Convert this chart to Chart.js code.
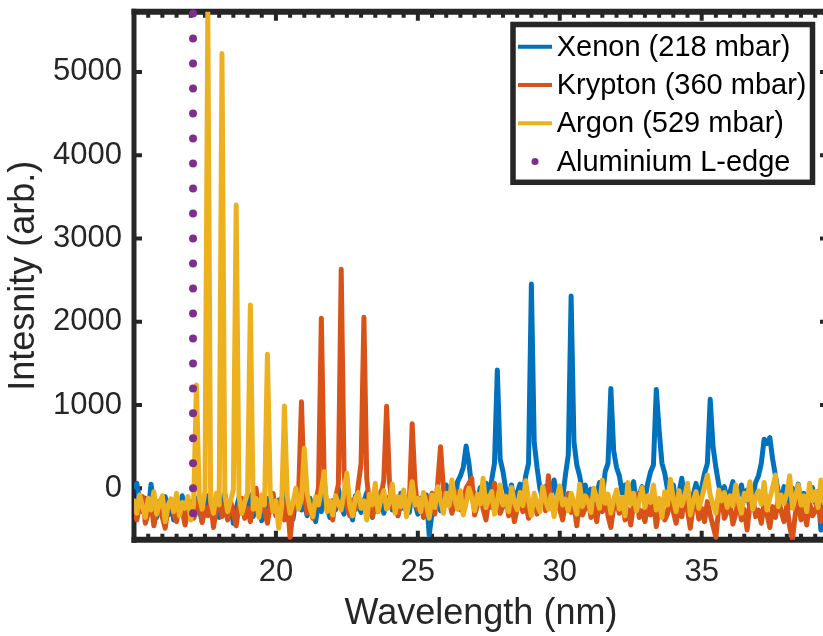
<!DOCTYPE html>
<html><head><meta charset="utf-8">
<script src="https://cdn.jsdelivr.net/npm/chart.js@4/dist/chart.umd.min.js"></script>
<style>html,body{margin:0;padding:0;background:#fff;overflow:hidden;width:823px;height:636px}canvas{display:block}</style>
</head><body>
<canvas id="c" width="840" height="636"></canvas>
<script>
// wavelength sampling (nm)
const wlStart = 15.0, wlStep = 0.1, wlCount = 245;

const seriesLabels = ['Xenon (218 mbar)', 'Krypton (360 mbar)', 'Argon (529 mbar)', 'Aluminium L-edge'];

const xenon = [
  20, 60, -150, -280, -120, -300, 50, -200, -350, -180,
  -250, -100, -320, -200, -380, -150, -260, -90, -300, -220,
  -170, -330, -120, -260, -400, -180, -90, -310, -230, -140,
  -350, -200, -60, -280, -170, -420, -240, -110, -300, -190,
  -260, -80, -340, -210, -150, -390, -230, -120, -280, -180,
  -320, -140, -250, -60, -300, -200, -370, -150, -90, -260,
  -180, -330, -120, -240, -400, -170, -280, -100, -220, -350,
  -150, -260, 0, -210, -310, -130, -240, -380, -90, -200,
  -290, -160, -50, -250, -350, -120, -220, -40, -300, -180,
  -100, -260, -200, -330, -60, -240, -150, -290, -20, -190,
  -310, -120, -240, -80, -560, -300, -200, -100, -270, -150,
  40, -130, -40, -200, 80, 150, 250, 508, 300, 0,
  -80, -150, 10, -100, 60, -50, 100, 300, 1420, 350,
  200, -20, -120, 40, -180, -50, 50, -100, 150, 300,
  2452, 550, 250, 0, -130, 20, -160, -40, 100, -90,
  10, -120, 160, 400, 2310, 560, 280, 150, -50, 40,
  -140, -10, -200, -80, 70, -100, 200, 300, 1200, 450,
  250, 150, -60, 40, -150, -40, 80, -200, -80, 20,
  -130, 60, 200, 280, 1188, 700, 300, 180, -20, -100,
  40, -180, -50, 120, -120, 0, -230, -80, 60, -110,
  10, 180, 300, 1068, 500, 250, 50, -100, 20, -160,
  -40, 80, -210, -70, 40, -150, -20, -250, -100, 70,
  150, 300, 590, 540, 610, 350, 150, -50, -150, 20,
  -100, -230, 0, -130, 50, -180, -60, -300, -110, 10,
  -170, -40, -500, -100, 40
];

const krypton = [
  -250, -380, -200, -100, -420, -300, -180, -450, -260, -150,
  -350, -480, -220, -130, -310, -400, -190, -270, -440, -240,
  -160, -360, -280, -120, -410, -230, -330, -170, -470, -260,
  -90, -340, -210, -380, -150, -290, -450, -200, -120, -360,
  -240, -400, -180, 0, -310, -150, -270, -420, -200, -60,
  -330, -240, -110, -380, -160, -590, -280, -200, -60, 1040,
  -100, -300, -200, -360, -150, 0, 2043, 100, -260, -180,
  -380, -120, 50, 2630, 200, -220, -330, -140, -260, 40,
  300, 2053, 120, -200, -340, -150, -280, -90, 100, 985,
  80, -230, -130, -320, -200, -60, -280, -170, 776, 50,
  -250, -150, -350, -100, -230, -60, -310, 60, 500, 0,
  -200, -120, -300, -180, -40, -260, -150, 0, 60, 120,
  -320, -200, -80, -250, -380, -140, -230, 60, -170, -300,
  -210, -90, -330, -150, -400, -250, -110, -280, -180, -360,
  -230, -120, -310, -190, -60, -270, 150, -200, -300, -140,
  -250, -380, -170, -60, -290, -200, -450, -150, -320, -240,
  -110, -350, -220, -400, -160, -280, -80, -330, -470, -230,
  -170, -300, -120, -380, -250, -440, -190, -60, -350, -270,
  -400, -200, -320, -140, -460, -250, -180, -380, -300, -110,
  -280, -420, -190, -340, -90, -260, -480, -210, -150, -370,
  -240, -400, -160, -320, -450, -590, -230, -120, -360, -280,
  -190, -430, -300, -150, -380, -250, -500, -200, -100, -340,
  -260, -420, -180, -310, -470, -220, -350, -120, -280, -400,
  -200, -460, -610, -300, -160, -380, -250, -440, -170, -330,
  -280, -120, -400, -230, -350
];

const argon = [
  -150, -300, -80, -220, -350, -120, -260, -40, -310, -180,
  -90, -400, -200, -130, -280, -60, -330, -170, -240, -100,
  -380, -200, 1240, -100, -250, -40, 5723, -150, -300, -60,
  -200, 5222, -80, -280, -150, -20, 3401, -100, -300, -170,
  -60, 2200, -250, -120, -350, -80, -200, 1610, -50, -280,
  -150, -480, -220, 988, -100, -300, -180, 0, -250, -130,
  480, -60, -230, -340, -100, -200, -20, 200, -280, -150,
  -320, -90, -180, -260, -40, 180, -210, -330, -120, -50,
  -240, -150, -380, -70, -200, 60, -280, -130, -30, -250,
  -170, 50, -300, -100, -220, -20, -340, -160, 80, -200,
  -120, -280, -50, -190, -360, -80, -230, 20, -150, -300,
  -60, -210, 100, -140, -250, -30, -320, -180, 0, -110,
  -270, -70, -190, 120, -230, -130, -40, -310, -160, 40,
  -200, -100, -280, 10, -170, -260, -50, -210, 90, -140,
  -330, -60, -190, -280, 20, -150, -250, -80, -340, -110,
  30, -200, -130, -270, -60, -180, -310, 50, -220, -90,
  -160, -290, 0, -120, -240, 100, -180, -70, -300, -140,
  -20, -250, -110, -330, 70, -190, -60, -270, -150, 10,
  -230, -90, -170, 40, -260, -120, -350, -40, -200, 110,
  -140, -280, -30, -210, -100, 60, -320, -160, -40, -240,
  -120, 20, 160, -80, -190, -300, -20, -150, -50, -230,
  -90, -210, 40, -170, -300, -60, -140, 80, -250, -110,
  -30, -190, 70, -260, -120, 10, 160, -220, -80, -180,
  -60, 150, -240, -110, 40, -200, -90, -280, 60, -150,
  -40, -230, 100, -170, -60
];

const alEdgeWavelength = 17.08;
const alEdgeY = [-300, 0, 300, 600, 900, 1200, 1500, 1800, 2100, 2400, 2700,
                 3000, 3300, 3600, 3900, 4200, 4500, 4800, 5100, 5400, 5700];

const xTickValues = [20, 25, 30, 35];
const yTickValues = [0, 1000, 2000, 3000, 4000, 5000];
const xMinorStep = 0.5;
const xRange = [15.0, 39.45];
const yRange = [-617, 5723];

const colors = ['#0072BD', '#D95319', '#EDB120', '#7E2F8E'];
const axisColor = '#262626';
const FONT = "'Liberation Sans', Arial, Helvetica, sans-serif";

const wavelengths = Array.from({length: wlCount}, (_, i) => +(wlStart + i * wlStep).toFixed(2));
const toXY = arr => arr.map((v, i) => ({x: wavelengths[i], y: v}));

function lineDs(idx, arr, order) {
  return {
    label: seriesLabels[idx], data: toXY(arr), borderColor: colors[idx], backgroundColor: colors[idx],
    borderWidth: 5, pointRadius: 0, tension: 0, fill: false, order: order,
    borderJoinStyle: 'round', borderCapStyle: 'round'
  };
}

const framePlugin = {
  id: 'frame',
  beforeDatasetsDraw(chart) {
    const {ctx, chartArea: {left, right, top, bottom}, scales: {x, y}} = chart;
    ctx.save();
    ctx.strokeStyle = axisColor;
    ctx.lineCap = 'butt';
    ctx.lineWidth = 4;
    const majors = new Set(xTickValues.map(v => v.toFixed(2)));
    ctx.beginPath();
    for (let v = Math.ceil(xRange[0] / xMinorStep) * xMinorStep; v < xRange[1]; v += xMinorStep) {
      if (v <= xRange[0]) continue;
      const px = x.getPixelForValue(v);
      const len = majors.has(v.toFixed(2)) ? 9 : 6;
      ctx.moveTo(px, bottom); ctx.lineTo(px, bottom - len);
      ctx.moveTo(px, top); ctx.lineTo(px, top + len);
    }
    for (const v of yTickValues) {
      const py = y.getPixelForValue(v);
      ctx.moveTo(left, py); ctx.lineTo(left + 8, py);
      ctx.moveTo(right, py); ctx.lineTo(right - 8, py);
    }
    ctx.stroke();
    ctx.lineWidth = 6;
    ctx.beginPath();
    ctx.moveTo(left - 2.5, top); ctx.lineTo(right + 2.5, top);
    ctx.moveTo(left - 2.5, bottom); ctx.lineTo(right + 2.5, bottom);
    ctx.stroke();
    ctx.lineWidth = 5;
    ctx.beginPath();
    ctx.moveTo(left, top - 3); ctx.lineTo(left, bottom + 3);
    ctx.moveTo(right, top - 3); ctx.lineTo(right, bottom + 3);
    ctx.stroke();
    ctx.restore();
  }
};

const legendPlugin = {
  id: 'boxLegend',
  afterDraw(chart) {
    const ctx = chart.ctx;
    const bx = 513, by = 24.5, bw = 299.5, bh = 157.8;
    ctx.save();
    ctx.fillStyle = '#ffffff';
    ctx.fillRect(bx, by, bw, bh);
    ctx.lineWidth = 5.5;
    ctx.strokeStyle = axisColor;
    ctx.strokeRect(bx, by, bw, bh);
    const row0 = 46.7, rowH = 38.3;
    ctx.font = '29px ' + FONT;
    ctx.textBaseline = 'middle';
    ctx.textAlign = 'left';
    chart.data.datasets.forEach((ds, i) => {
      const ry = row0 + i * rowH;
      if (ds.showLine === false) {
        ctx.fillStyle = ds.backgroundColor;
        ctx.beginPath(); ctx.arc(535, ry, 3.5, 0, Math.PI * 2); ctx.fill();
      } else {
        ctx.strokeStyle = ds.borderColor; ctx.lineWidth = 4; ctx.lineCap = 'butt';
        ctx.beginPath(); ctx.moveTo(518, ry); ctx.lineTo(552, ry); ctx.stroke();
      }
      ctx.fillStyle = '#000000';
      ctx.fillText(ds.label, 556.7, ry + 1);
    });
    ctx.restore();
  }
};

new Chart(document.getElementById('c'), {
  type: 'line',
  data: {
    datasets: [
      lineDs(0, xenon, 3),
      lineDs(1, krypton, 2),
      lineDs(2, argon, 1),
      {
        label: seriesLabels[3],
        data: alEdgeY.map(v => ({x: alEdgeWavelength, y: v})),
        showLine: false, pointRadius: 4, pointBorderWidth: 0,
        pointBackgroundColor: colors[3], backgroundColor: colors[3], borderColor: colors[3], order: 0,
        clip: false
      }
    ]
  },
  options: {
    responsive: false, animation: false, devicePixelRatio: 1, events: [],
    layout: {padding: {left: 0, top: 11.7, right: 12, bottom: 0}},
    plugins: {legend: {display: false}, tooltip: {enabled: false}},
    scales: {
      x: {
        type: 'linear', min: xRange[0], max: xRange[1],
        grid: {display: false, drawTicks: false}, border: {display: false},
        afterBuildTicks: s => { s.ticks = xTickValues.map(v => ({value: v})); },
        afterFit: s => { s.height = 96.3; s.paddingLeft = 0; s.paddingRight = 0; },
        ticks: {font: {family: FONT, size: 31}, color: axisColor, padding: 14, maxRotation: 0, autoSkip: false,
                callback: v => String(v)},
        title: {display: true, text: 'Wavelength (nm)', color: axisColor, font: {family: FONT, size: 36},
                padding: {top: 0, bottom: 0}}
      },
      y: {
        type: 'linear', min: yRange[0], max: yRange[1],
        grid: {display: false, drawTicks: false}, border: {display: false},
        afterBuildTicks: s => { s.ticks = yTickValues.map(v => ({value: v})); },
        afterFit: s => { s.width = 134; s.paddingTop = 0; s.paddingBottom = 0; },
        ticks: {font: {family: FONT, size: 31}, color: axisColor, padding: 12, autoSkip: false,
                callback: v => String(v)},
        title: {display: true, text: 'Intesnity (arb.)', color: axisColor, font: {family: FONT, size: 36},
                padding: {top: 2, bottom: 0}}
      }
    }
  },
  plugins: [framePlugin, legendPlugin]
});
</script>
</body></html>
